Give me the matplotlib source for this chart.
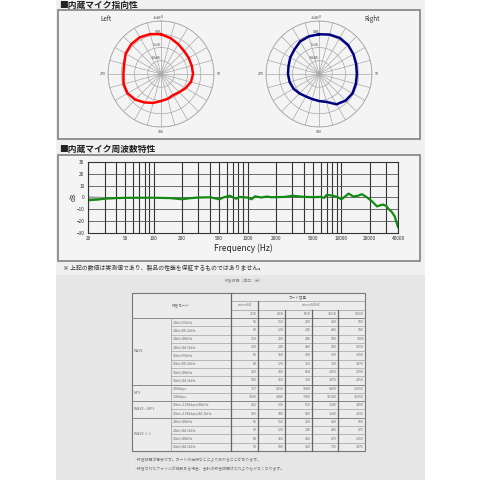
"""内蔵マイク指向性・周波数特性・録音時間表の再現。"""
import matplotlib
import matplotlib.pyplot as plt
import numpy as np
from matplotlib.patches import Rectangle
from matplotlib.ticker import NullFormatter

matplotlib.use("Agg")
plt.rcParams["font.family"] = ["Noto Sans CJK JP", "DejaVu Sans"]

# 指向性（角度: 度、値: dB）
polar_angles = [0, 15, 30, 45, 60, 75, 90, 105, 120, 135, 150, 165,
                180, 195, 210, 225, 240, 255, 270, 285, 300, 315, 330, 345]
left_db = [0.0, -1.0, -2.0, -2.7, -2.9, -3.0, -2.9, -3.3, -4.3, -5.3, -5.8, -5.3,
           -4.8, -3.7, -2.6, -1.3, -0.4, -0.4, -0.8, -0.6, 0.4, 0.9, 1.0, 0.6]
right_db = [0.0, 0.4, 0.7, 0.5, 0.0, -0.5, -0.7, -0.6, -0.4, -0.8, -1.8, -4.1,
            -4.8, -5.2, -5.2, -4.6, -3.9, -3.5, -3.3, -3.1, -2.5, -1.9, -0.8, -0.3]
ring_db = [-10, -5, 0, 5]
ring_labels = ["-10dB", "-5dB", "0dB", "+5dB"]
angle_labels = ["0", "90", "180", "270"]

# 周波数特性
freq_hz = [20, 25, 30, 40, 50, 70, 100, 150, 200, 250,
           300, 400, 500, 560, 650, 700, 760, 820, 900, 1000,
           1100, 1200, 1400, 1600, 1800, 2000, 2500, 3000, 3500, 4000,
           5000, 6000, 6500, 7000, 8000, 9000, 10000, 11000, 11900, 13400,
           15000, 16500, 18400, 21000, 23900, 26000, 27700, 29900, 31700, 34200,
           36900, 40000]
response_db = [-2.3, -1.8, -1.0, -0.5, -0.3, -0.2, -0.2, -0.5, -1.5, -0.5,
               0.0, 0.2, -1.5, 0.2, 1.5, 0.0, -1.0, 0.5, 0.2, 0.0,
               -1.5, 1.0, 0.0, 0.8, 0.2, 0.3, 0.5, 1.5, 1.0, 0.5,
               0.3, 0.5, -0.3, 2.3, 1.5, 0.5, -1.5, 1.0, 3.3, 0.8,
               1.5, 2.8, 0.5, -3.0, -7.5, -6.5, -6.0, -7.0, -9.7, -12.0,
               -16.0, -25.0]
ref_freq = [20, 30]
ref_db = [0.0, -0.5]
freq_ticks = [20, 50, 100, 200, 500, 1000, 2000, 5000, 10000, 20000, 40000]
freq_grid = [30, 40, 60, 70, 80, 90, 300, 400, 600, 700, 800, 900,
             3000, 4000, 6000, 7000, 8000, 9000, 30000]
db_ticks = [30, 20, 10, 0, -10, -20, -30]

# 録音時間表（単位：分）
modes = ["WAVE", "MP3", "WAVE + MP3", "WAVE × 2"]
mode_rows = [8, 2, 2, 4]
settings = ["24bit/96kHz", "24bit/88.2kHz", "24bit/48kHz", "24bit/44.1kHz",
            "16bit/96kHz", "16bit/88.2kHz", "16bit/48kHz", "16bit/44.1kHz",
            "320kbps", "128kbps",
            "16bit+128kbps/48kHz", "16bit+128kbps/44.1kHz",
            "24bit/48kHz", "24bit/44.1kHz", "16bit/48kHz", "16bit/44.1kHz"]
capacities = ["2GB", "4GB", "8GB", "16GB", "32GB"]
minutes = [
    [55, 110, 220, 450, 900],
    [60, 120, 240, 490, 980],
    [110, 220, 440, 900, 1800],
    [120, 240, 480, 980, 1950],
    [80, 160, 320, 670, 1350],
    [88, 176, 352, 720, 1470],
    [160, 330, 664, 1350, 2700],
    [180, 360, 720, 1470, 2950],
    [797, 1590, 3180, 6490, 12950],
    [1990, 3980, 7980, 16180, 32350],
    [152, 305, 610, 1240, 2490],
    [165, 330, 660, 1345, 2690],
    [55, 110, 220, 450, 900],
    [60, 120, 240, 490, 975],
    [83, 166, 332, 675, 1350],
    [90, 180, 360, 735, 1475],
]
notes = ["・録音時間は目安です。カードの仕様などにより変わることがあります。",
         "・録音されたファイルが複数ある場合、合計の録音時間はこれよりも少なくなります。"]

W = H = 480


def fig_rect(x0, y0, x1, y1):
    return [x0 / W, 1 - y1 / H, (x1 - x0) / W, (y1 - y0) / H]


fig = plt.figure(figsize=(4.8, 4.8), dpi=100)
fig.patch.set_facecolor("white")

# 背景・枠・テキスト用のピクセル座標オーバーレイ
ov = fig.add_axes([0, 0, 1, 1])
ov.set_xlim(0, W)
ov.set_ylim(H, 0)
ov.axis("off")
ov.add_patch(Rectangle((56, 0), 369, 275, fc="#f0f0f0", ec="none"))
ov.add_patch(Rectangle((56, 275), 369, 205, fc="#e6e6e6", ec="none"))
ov.add_patch(Rectangle((58, 10), 362, 129, fc="#f4f4f4", ec="#8a8a8a", lw=1.3))
ov.add_patch(Rectangle((58, 155), 362, 106, fc="#f4f4f4", ec="#8a8a8a", lw=1.3))
ov.text(59, 5.5, "■内蔵マイク指向性", fontsize=6.3, fontweight="bold",
        color="#222", va="center", ha="left")
ov.text(59, 149, "■内蔵マイク周波数特性", fontsize=6.3, fontweight="bold",
        color="#222", va="center", ha="left")
ov.text(106, 19, "Left", fontsize=4.5, color="#333", ha="center", va="center")
ov.text(372, 19, "Right", fontsize=4.5, color="#333", ha="center", va="center")
ov.text(243, 248, "Frequency (Hz)", fontsize=6, color="#222", ha="center", va="center")
ov.text(74, 197, "dB", fontsize=4.5, color="#222", ha="center", va="center", rotation=90)
ov.text(63, 268, "※ 上記の数値は実測値であり、製品の性能を保証するものではありません。",
        fontsize=4.2, color="#333", ha="left", va="center")

# 表
tx0, tx1 = 132, 365
col_x = [132, 171, 231, 258, 285, 312, 338, 365]
hdr_y = [293, 301, 310, 318]
row_h = (451 - 318) / len(settings)
row_y = [318 + i * row_h for i in range(len(settings) + 1)]
tc = "#6e6e6e"
fs = 2.6
ov.text(244, 281, "録音時間（単位：分）", fontsize=2.8, color="#888", ha="center", va="center")
ov.add_patch(Rectangle((tx0, 293), tx1 - tx0, 451 - 293, fc="#ececec", ec="#777", lw=0.8))
ov.text((col_x[0] + col_x[2]) / 2, (hdr_y[0] + hdr_y[3]) / 2, "録音モード",
        fontsize=fs, color=tc, ha="center", va="center")
ov.text((col_x[2] + tx1) / 2, (hdr_y[0] + hdr_y[1]) / 2, "カード容量",
        fontsize=fs, color=tc, ha="center", va="center")
ov.text((col_x[2] + col_x[3]) / 2, (hdr_y[1] + hdr_y[2]) / 2, "microSD",
        fontsize=fs, color=tc, ha="center", va="center")
ov.text((col_x[3] + tx1) / 2, (hdr_y[1] + hdr_y[2]) / 2, "microSDHC",
        fontsize=fs, color=tc, ha="center", va="center")
for j, cap in enumerate(capacities):
    ov.text(col_x[j + 3] - 1, (hdr_y[2] + hdr_y[3]) / 2, cap,
            fontsize=fs, color=tc, ha="right", va="center")
ov.plot([col_x[2], tx1], [hdr_y[1]] * 2, color="#999", lw=0.5)
ov.plot([col_x[2], tx1], [hdr_y[2]] * 2, color="#999", lw=0.5)
ov.plot([tx0, tx1], [hdr_y[3]] * 2, color="#888", lw=0.7)
for i, s in enumerate(settings):
    yc = (row_y[i] + row_y[i + 1]) / 2
    ov.text(col_x[1] + 2, yc, s, fontsize=fs, color=tc, ha="left", va="center")
    for j, v in enumerate(minutes[i]):
        ov.text(col_x[j + 3] - 1, yc, f"{v}", fontsize=fs, color=tc,
                ha="right", va="center")
    if i > 0:
        ov.plot([col_x[1], tx1], [row_y[i]] * 2, color="#a0a0a0", lw=0.5)
start = 0
for m, n in zip(modes, mode_rows):
    ov.text(col_x[0] + 2, (row_y[start] + row_y[start + n]) / 2, m,
            fontsize=fs, color=tc, ha="left", va="center")
    if start > 0:
        ov.plot([tx0, tx1], [row_y[start]] * 2, color="#888", lw=0.7)
    start += n
ov.plot([col_x[1]] * 2, [hdr_y[3], 451], color="#999", lw=0.5)
ov.plot([col_x[2]] * 2, [hdr_y[0], 451], color="#666", lw=0.9)
ov.plot([col_x[3]] * 2, [hdr_y[1], 451], color="#666", lw=0.9)
for x in col_x[4:7]:
    ov.plot([x] * 2, [hdr_y[2], 451], color="#666", lw=0.9)
for k, note in enumerate(notes):
    ov.text(133, 460 + k * 9, note, fontsize=2.8, color="#777", ha="left", va="center")


def draw_polar(cx, cy, values, color):
    r = 53
    ax = fig.add_axes(fig_rect(cx - r, cy - r, cx + r, cy + r), projection="polar")
    ax.set_theta_zero_location("N")
    ax.set_theta_direction(-1)
    ax.set_facecolor("none")
    ax.set_ylim(-15, 5)
    ax.set_xticks(np.deg2rad(np.arange(0, 360, 15)))
    ax.set_xticklabels([])
    ax.set_yticks(ring_db)
    ax.set_yticklabels([])
    ax.grid(True, color="#a8a8a8", lw=0.5)
    ax.spines["polar"].set_color("#a8a8a8")
    ax.spines["polar"].set_linewidth(0.6)
    for val, lab in zip(ring_db, ring_labels):
        ax.text(0, val + 1.0, lab, fontsize=2.6, color="#444",
                ha="right", va="center")
    ax.text(0, 6.6, angle_labels[0], fontsize=2.6, color="#444",
            ha="left", va="center")
    for k, lab in enumerate(angle_labels[1:], start=1):
        ax.text(np.deg2rad(90 * k), 6.8, lab, fontsize=2.6, color="#444",
                ha="center", va="center")
    th = np.deg2rad(polar_angles + [polar_angles[0]])
    ax.plot(th, values + [values[0]], color=color, lw=1.8)


draw_polar(161, 74, left_db, "#ff0000")
draw_polar(319, 74, right_db, "#000080")

# 周波数特性
ax = fig.add_axes(fig_rect(88, 162, 398, 233))
ax.set_facecolor("#f4f4f4")
ax.set_xscale("log")
ax.set_xlim(20, 40000)
ax.set_ylim(-30, 30)
ax.set_xticks(freq_ticks)
ax.set_xticklabels([str(f) for f in freq_ticks])
ax.set_xticks(freq_grid, minor=True)
ax.xaxis.set_minor_formatter(NullFormatter())
ax.set_yticks(db_ticks)
ax.tick_params(which="both", length=0, labelsize=3.4, colors="#333", pad=2.5)
ax.grid(True, which="both", axis="x", color="#333", lw=0.8)
ax.grid(True, axis="y", color="#555", lw=0.6)
for sp in ax.spines.values():
    sp.set_color("#333")
    sp.set_linewidth(0.8)
ax.plot(ref_freq, ref_db, color="#999", lw=1.6, solid_capstyle="butt")
ax.plot(freq_hz, response_db, color="#128a12", lw=1.6)

fig.savefig("out.png", dpi=100)
